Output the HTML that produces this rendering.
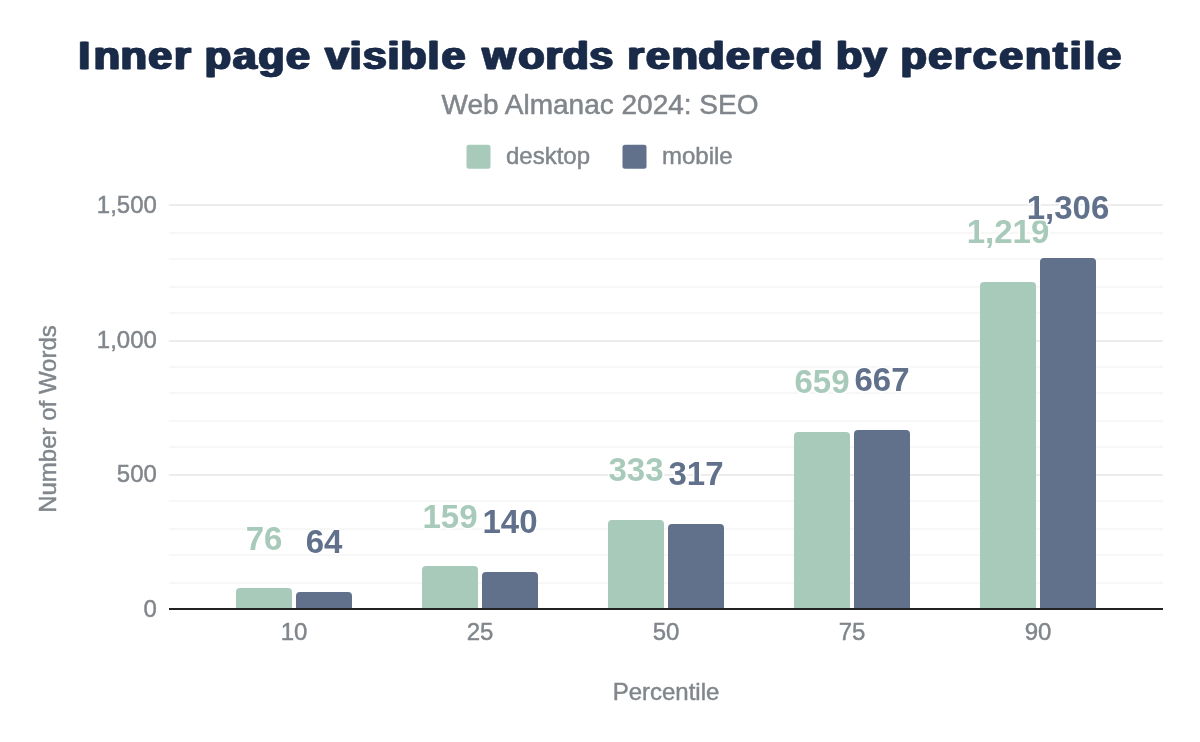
<!DOCTYPE html>
<html lang="en">
<head>
<meta charset="utf-8">
<title>Inner page visible words rendered by percentile</title>
<style>
html,body{margin:0;padding:0;background:#fff;}
body{width:1200px;height:742px;overflow:hidden;}
svg{display:block;}
text{font-family:"Liberation Sans",Arial,Helvetica,sans-serif;}
.t{fill:#80868b;font-size:24px;stroke:#80868b;stroke-width:0.45px;}
.title{fill:#1a2b49;font-size:40px;font-weight:bold;stroke:#1a2b49;stroke-width:0.5px;stroke-linejoin:miter;}
.sub{fill:#80868b;font-size:28px;stroke:#80868b;stroke-width:0.5px;}
.dl{font-size:33px;font-weight:bold;stroke:#fff;stroke-width:3px;stroke-linejoin:round;paint-order:stroke fill;}
</style>
</head>
<body>
<svg width="1200" height="742" viewBox="0 0 1200 742">
<defs>
<filter id="fat" x="-2%" y="-20%" width="104%" height="140%" color-interpolation-filters="sRGB">
<feOffset in="SourceGraphic" dx="-0.95" dy="0" result="a"/>
<feOffset in="SourceGraphic" dx="0.95" dy="0" result="b"/>
<feMerge><feMergeNode in="a"/><feMergeNode in="b"/><feMergeNode in="SourceGraphic"/></feMerge>
</filter>
</defs>
<rect x="0" y="0" width="1200" height="742" fill="#ffffff"/>
<text class="title" filter="url(#fat)" transform="translate(0,68.6) scale(1.08,0.965)" x="72.39 86.77 111.47 137.28 161.19 177.80 189.66 215.46 239.07 264.87 288.95 300.87 323.91 335.83 358.88 370.73 395.91 408.87 432.95 446.60 479.77 504.78 520.92 545.69 568.73 580.90 598.13 621.73 646.44 672.24 696.16 713.39 736.99 762.17 774.03 798.80 821.84 833.70 859.50 883.41 900.65 925.35 948.96 975.09 990.58 1002.91 1015.87" y="0">Inner page visible words rendered by percentile</text>
<text class="sub" x="600" y="114" text-anchor="middle">Web Almanac 2024: SEO</text>
<rect x="466.5" y="144.75" width="24" height="24" rx="2.5" fill="#a8caba"/>
<text class="t" x="506" y="164">desktop</text>
<rect x="622.5" y="144.75" width="24" height="24" rx="2.5" fill="#61718c"/>
<text class="t" x="662" y="164">mobile</text>
<rect x="169" y="232" width="994" height="2" fill="#f7f7f7"/>
<rect x="169" y="258" width="994" height="2" fill="#f7f7f7"/>
<rect x="169" y="286" width="994" height="2" fill="#f7f7f7"/>
<rect x="169" y="312" width="994" height="2" fill="#f7f7f7"/>
<rect x="169" y="366" width="994" height="2" fill="#f7f7f7"/>
<rect x="169" y="392" width="994" height="2" fill="#f7f7f7"/>
<rect x="169" y="420" width="994" height="2" fill="#f7f7f7"/>
<rect x="169" y="446" width="994" height="2" fill="#f7f7f7"/>
<rect x="169" y="500" width="994" height="2" fill="#f7f7f7"/>
<rect x="169" y="528" width="994" height="2" fill="#f7f7f7"/>
<rect x="169" y="554" width="994" height="2" fill="#f7f7f7"/>
<rect x="169" y="582" width="994" height="2" fill="#f7f7f7"/>
<rect x="169" y="204" width="994" height="2" fill="#ededed"/>
<rect x="169" y="340" width="994" height="2" fill="#ededed"/>
<rect x="169" y="474" width="994" height="2" fill="#ededed"/>
<text class="t" x="156.9" y="213" text-anchor="end">1,500</text>
<text class="t" x="156.9" y="347.7" text-anchor="end">1,000</text>
<text class="t" x="156.9" y="482.3" text-anchor="end">500</text>
<text class="t" x="156.9" y="617" text-anchor="end">0</text>
<text class="t" transform="translate(56.2,419) rotate(-90)" text-anchor="middle">Number of Words</text>
<path d="M236 609V592a4 4 0 0 1 4 -4h48a4 4 0 0 1 4 4V609z" fill="#a8caba"/>
<path d="M296 609V596a4 4 0 0 1 4 -4h48a4 4 0 0 1 4 4V609z" fill="#61718c"/>
<path d="M422 609V570a4 4 0 0 1 4 -4h48a4 4 0 0 1 4 4V609z" fill="#a8caba"/>
<path d="M482 609V576a4 4 0 0 1 4 -4h48a4 4 0 0 1 4 4V609z" fill="#61718c"/>
<path d="M608 609V524a4 4 0 0 1 4 -4h48a4 4 0 0 1 4 4V609z" fill="#a8caba"/>
<path d="M668 609V528a4 4 0 0 1 4 -4h48a4 4 0 0 1 4 4V609z" fill="#61718c"/>
<path d="M794 609V436a4 4 0 0 1 4 -4h48a4 4 0 0 1 4 4V609z" fill="#a8caba"/>
<path d="M854 609V434a4 4 0 0 1 4 -4h48a4 4 0 0 1 4 4V609z" fill="#61718c"/>
<path d="M980 609V286a4 4 0 0 1 4 -4h48a4 4 0 0 1 4 4V609z" fill="#a8caba"/>
<path d="M1040 609V262a4 4 0 0 1 4 -4h48a4 4 0 0 1 4 4V609z" fill="#61718c"/>
<rect x="169" y="608" width="994" height="2" fill="#222222"/>
<text class="t" x="294" y="640" text-anchor="middle">10</text>
<text class="t" x="480" y="640" text-anchor="middle">25</text>
<text class="t" x="666" y="640" text-anchor="middle">50</text>
<text class="t" x="852" y="640" text-anchor="middle">75</text>
<text class="t" x="1038" y="640" text-anchor="middle">90</text>
<text class="t" x="666" y="700" text-anchor="middle">Percentile</text>
<text class="dl" x="264" y="550" text-anchor="middle" fill="#a8caba">76</text>
<text class="dl" x="450" y="528" text-anchor="middle" fill="#a8caba">159</text>
<text class="dl" x="636" y="480.8" text-anchor="middle" fill="#a8caba">333</text>
<text class="dl" x="822" y="393.2" text-anchor="middle" fill="#a8caba">659</text>
<text class="dl" x="1008" y="242.7" text-anchor="middle" fill="#a8caba">1,219</text>
<text class="dl" x="324" y="553" text-anchor="middle" fill="#61718c">64</text>
<text class="dl" x="510" y="533" text-anchor="middle" fill="#61718c">140</text>
<text class="dl" x="696" y="484.9" text-anchor="middle" fill="#61718c">317</text>
<text class="dl" x="882" y="391.3" text-anchor="middle" fill="#61718c">667</text>
<text class="dl" x="1068" y="218.6" text-anchor="middle" fill="#61718c">1,306</text>
</svg>
</body>
</html>
